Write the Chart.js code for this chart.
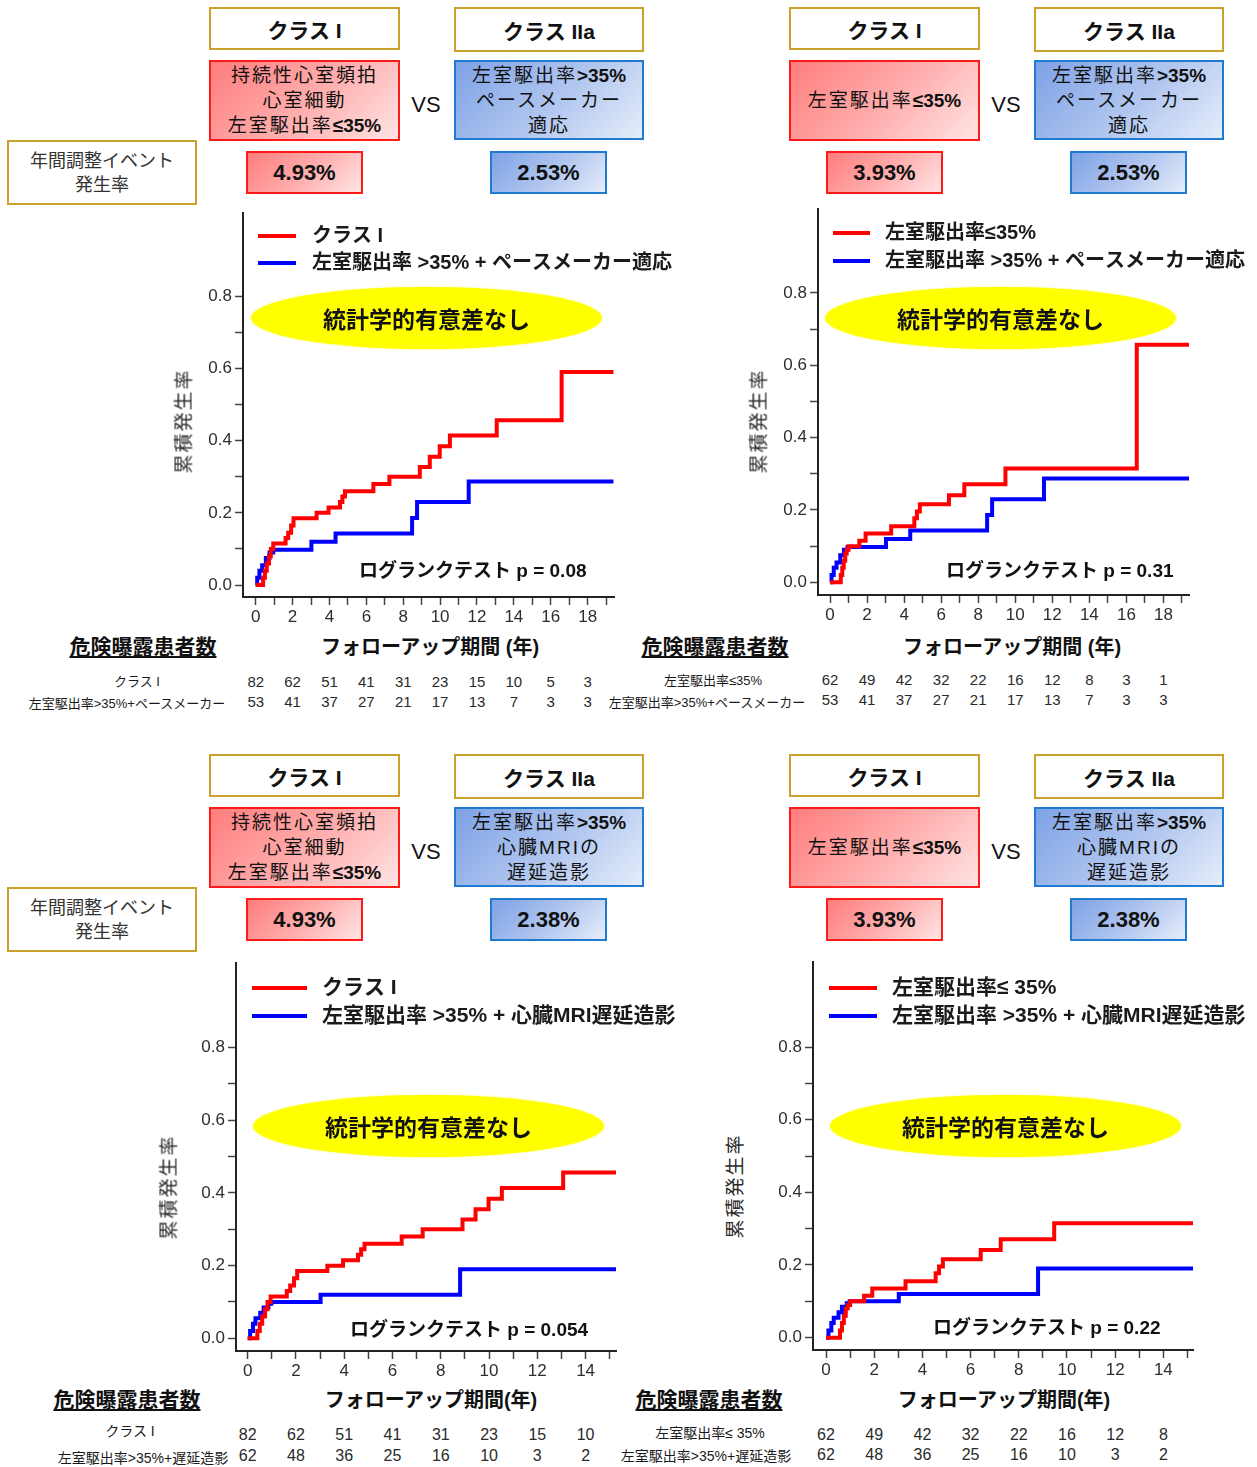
<!DOCTYPE html>
<html lang="ja">
<head>
<meta charset="utf-8">
<script src="https://cdn.jsdelivr.net/npm/chart.js@4.4.1/dist/chart.umd.min.js"></script>
<style>
html, body { margin: 0; padding: 0; background: #fff; overflow: hidden; }
#page { position: relative; width: 1257px; height: 1467px; overflow: hidden;
  font-family: 'Liberation Sans', Arial, 'Noto Sans CJK JP', sans-serif; color: #111; }
.box { position: absolute; box-sizing: border-box; display: flex; flex-direction: column;
  align-items: center; justify-content: center; text-align: center; white-space: nowrap; }
.gold { border: 2px solid #c9a12b; background: #fff; }
.cls { font-weight: bold; font-size: 21px; }
.red { border: 2px solid #ff1a1a; background: linear-gradient(135deg, #ff7d7d 0%, #ffb0b0 55%, #ffe4e4 100%); }
.blue { border: 2px solid #1f7ad0; background: linear-gradient(135deg, #7ea2e6 0%, #b2c7ef 55%, #e6edfa 100%); }
.desc { font-size: 19px; line-height: 25px; letter-spacing: 2px; }
.desc b { letter-spacing: 0; }
.rate { font-weight: bold; font-size: 22px; }
.note { font-size: 18px; line-height: 24px; color: #333; }
.mid { position: absolute; white-space: nowrap; transform: translate(-50%, -50%); }
.vs { font-size: 22px; }
.chartBox { position: absolute; }
.ell { position: absolute; background: #ffff00; border-radius: 50%; box-shadow: 0 0 2px #ffff40;
  display: flex; align-items: center; justify-content: center; font-weight: bold; font-size: 23px; }
.pval { position: absolute; font-weight: bold; font-size: 19px; white-space: nowrap; transform: translateY(-50%); }
.ytitle { position: absolute; font-size: 19px; letter-spacing: 2px; color: #2a2a2a; white-space: nowrap;
  transform: translate(-50%, -50%) rotate(-90deg); }
.xtitle { font-weight: bold; font-size: 20px; }
.risk { font-weight: bold; font-size: 21px; text-decoration: underline; }
.rlab { color: #1a1a1a; }
.rnum { color: #2a2a2a; }
</style>
</head>
<body>
<div id="page"></div>
<script>
// 累積発生率 (KM曲線) : 経過年 と 発生率
const classITime = [0, 0.4, 0.5, 0.6, 0.72, 0.82, 0.95, 1.62, 1.76, 1.92, 2.05, 3.3, 3.95, 4.57, 4.7, 4.84, 6.38, 7.25, 8.9, 9.44, 9.98, 10.53, 13.07, 16.59];
const classIRate = [0, 0.02, 0.04, 0.06, 0.08, 0.10, 0.115, 0.13, 0.145, 0.165, 0.185, 0.20, 0.215, 0.23, 0.245, 0.26, 0.28, 0.30, 0.327, 0.355, 0.384, 0.414, 0.456, 0.59];
const lvefTime = [0, 0.58, 0.66, 0.74, 0.82, 0.9, 1.0, 1.58, 1.92, 3.3, 4.55, 4.69, 4.85, 6.42, 7.25, 9.47, 16.56];
const lvefRate = [0, 0.02, 0.04, 0.06, 0.08, 0.09, 0.10, 0.115, 0.135, 0.155, 0.177, 0.196, 0.216, 0.241, 0.271, 0.315, 0.657];
const pacerTime = [0, 0.08, 0.2, 0.35, 0.55, 0.75, 0.95, 3.02, 4.33, 8.48, 8.75, 11.55];
const pacerRate = [0, 0.02, 0.04, 0.055, 0.075, 0.09, 0.098, 0.12, 0.143, 0.186, 0.23, 0.287];
const mriTime = [0, 0.1, 0.22, 0.32, 0.52, 0.66, 0.86, 0.98, 3.02, 8.8];
const mriRate = [0, 0.02, 0.04, 0.055, 0.07, 0.085, 0.095, 0.10, 0.12, 0.19];
const lastFollowUp = 19.4;

// 目盛り
const yTicks = [0, 0.1, 0.2, 0.3, 0.4, 0.5, 0.6, 0.7, 0.8];
const xTicksLong = [0, 1, 2, 3, 4, 5, 6, 7, 8, 9, 10, 11, 12, 13, 14, 15, 16, 17, 18, 19];
const xTicksShort = [0, 1, 2, 3, 4, 5, 6, 7, 8, 9, 10, 11, 12, 13, 14, 15];

// 危険曝露患者数
const riskYearsLong = [0, 2, 4, 6, 8, 10, 12, 14, 16, 18];
const riskYearsShort = [0, 2, 4, 6, 8, 10, 12, 14];
const riskClassI = [82, 62, 51, 41, 31, 23, 15, 10, 5, 3];
const riskLvef = [62, 49, 42, 32, 22, 16, 12, 8, 3, 1];
const riskPacer = [53, 41, 37, 27, 21, 17, 13, 7, 3, 3];
const riskMri = [62, 48, 36, 25, 16, 10, 3, 2];

const page = document.getElementById('page');
const FONT = "'Liberation Sans', Arial, 'Noto Sans CJK JP', sans-serif";
const AXIS_W = 60, AXIS_H = 30, PAD_T = 20, PAD_R = 80;

function toPoints(times, rates) {
    const pts = times.map((t, i) => ({ x: t, y: rates[i] }));
    pts.push({ x: lastFollowUp, y: rates[rates.length - 1] });
    return pts;
}

function el(cls, html, css) {
    const d = document.createElement('div');
    d.className = cls;
    d.innerHTML = html;
    Object.assign(d.style, css);
    page.appendChild(d);
    return d;
}
const px = v => v + 'px';
const at = (x, y) => ({ left: px(x), top: px(y) });

// 凡例はプロット内に描く
const insideLegend = {
    id: 'insideLegend',
    afterDraw(chart, args, o) {
        const { ctx, chartArea } = chart;
        ctx.save();
        ctx.font = o.font;
        ctx.textBaseline = 'middle';
        chart.data.datasets.forEach((ds, i) => {
            const x = chartArea.left + o.left;
            const y = chartArea.top + o.top + i * o.gap;
            ctx.strokeStyle = ds.borderColor;
            ctx.lineWidth = 4;
            ctx.beginPath();
            ctx.moveTo(x, y);
            ctx.lineTo(x + o.len, y);
            ctx.stroke();
            ctx.fillStyle = '#1a1a1a';
            ctx.fillText(ds.label, x + o.len + o.textGap, y);
        });
        ctx.restore();
    }
};

function makeChart(p) {
    const W = p.area.r - p.area.l + AXIS_W + PAD_R;
    const H = p.area.b - p.area.t + PAD_T + AXIS_H;
    const wrap = el('chartBox', '', { left: px(p.area.l - AXIS_W), top: px(p.area.t - PAD_T), width: px(W), height: px(H) });
    const cv = document.createElement('canvas');
    cv.width = W; cv.height = H;
    cv.style.width = px(W); cv.style.height = px(H);
    wrap.appendChild(cv);

    const lineStyle = { pointRadius: 0, borderWidth: 4, stepped: 'before', fill: false,
                        borderJoinStyle: 'miter', borderCapStyle: 'butt' };
    const axisCommon = {
        type: 'linear',
        grid: { drawOnChartArea: false, tickLength: 8, tickColor: '#444', tickWidth: 1.5 },
        border: { color: '#222', width: 2 },
    };
    const chart = new Chart(cv, {
        type: 'line',
        data: {
            datasets: [
                { label: p.red.label, data: toPoints(p.red.t, p.red.v), borderColor: '#ff0000', ...lineStyle },
                { label: p.blue.label, data: toPoints(p.blue.t, p.blue.v), borderColor: '#0000ff', ...lineStyle }
            ]
        },
        options: {
            responsive: false, animation: false,
            layout: { padding: { top: PAD_T, right: PAD_R, left: 0, bottom: 0 } },
            plugins: { legend: { display: false }, tooltip: { enabled: false }, insideLegend: p.legend },
            scales: {
                x: { ...axisCommon, min: p.x[0], max: p.x[1],
                     afterBuildTicks: s => { s.ticks = p.xTicks.map(v => ({ value: v })); },
                     afterFit: s => { s.height = AXIS_H; },
                     ticks: { autoSkip: false, maxRotation: 0, padding: 2, color: '#2e2e2e',
                              font: { family: FONT, size: 17 },
                              callback: v => (v % 2 === 0 ? String(v) : '') } },
                y: { ...axisCommon, min: p.y[0], max: p.y[1],
                     afterBuildTicks: s => { s.ticks = yTicks.map(v => ({ value: v })); },
                     afterFit: s => { s.width = AXIS_W; },
                     ticks: { autoSkip: false, padding: 3, color: '#2e2e2e',
                              font: { family: FONT, size: 17 },
                              callback: (v, i) => (i % 2 === 0 ? v.toFixed(1) : '') } }
            }
        },
        plugins: [insideLegend]
    });

    // 患者数の列は x 軸の目盛り位置に合わせる
    const offX = p.area.l - AXIS_W;
    p.risk.rows.forEach(row => {
        row.n.forEach((n, i) => {
            const x = offX + chart.scales.x.getPixelForValue(p.risk.years[i]);
            el('mid rnum', String(n), { ...at(x, row.y), fontSize: px(p.risk.numSize) });
        });
        el('mid rlab', row.label, { ...at(row.lx, row.ly), fontSize: px(p.risk.labSize) });
    });
    return chart;
}

const panels = [
    { area: { l: 243, t: 213, r: 614, b: 597 }, x: [-0.69, 19.43], y: [-0.033, 1.030], xTicks: xTicksLong,
      red: { label: 'クラス I', t: classITime, v: classIRate },
      blue: { label: '左室駆出率 >35% + ペースメーカー適応', t: pacerTime, v: pacerRate },
      legend: { left: 15, top: 23, gap: 27, len: 38, textGap: 16, font: `bold 20px ${FONT}` },
      risk: { years: riskYearsLong, numSize: 15, labSize: 13, rows: [
          { n: riskClassI, y: 681, label: 'クラス I', lx: 137, ly: 680 },
          { n: riskPacer, y: 701, label: '左室駆出率>35%+ペースメーカー', lx: 127, ly: 702 } ] } },
    { area: { l: 818, t: 209, r: 1189, b: 595 }, x: [-0.65, 19.38], y: [-0.035, 1.032], xTicks: xTicksLong,
      red: { label: '左室駆出率≤35%', t: lvefTime, v: lvefRate },
      blue: { label: '左室駆出率 >35% + ペースメーカー適応', t: pacerTime, v: pacerRate },
      legend: { left: 15, top: 24, gap: 28, len: 37, textGap: 15, font: `bold 20px ${FONT}` },
      risk: { years: riskYearsLong, numSize: 15, labSize: 13, rows: [
          { n: riskLvef, y: 679, label: '左室駆出率≤35%', lx: 713, ly: 679 },
          { n: riskPacer, y: 699, label: '左室駆出率>35%+ペースメーカー', lx: 707, ly: 701 } ] } },
    { area: { l: 236, t: 963, r: 616, b: 1351 }, x: [-0.485, 15.26], y: [-0.035, 1.033], xTicks: xTicksShort,
      red: { label: 'クラス I', t: classITime, v: classIRate },
      blue: { label: '左室駆出率 >35% + 心臓MRI遅延造影', t: mriTime, v: mriRate },
      legend: { left: 16, top: 25, gap: 28, len: 55, textGap: 15, font: `bold 21px ${FONT}` },
      risk: { years: riskYearsShort, numSize: 16, labSize: 14, rows: [
          { n: riskClassI.slice(0, 8), y: 1435, label: 'クラス I', lx: 130, ly: 1430 },
          { n: riskMri, y: 1456, label: '左室駆出率>35%+遅延造影', lx: 143, ly: 1457 } ] } },
    { area: { l: 813, t: 962, r: 1193, b: 1350 }, x: [-0.54, 15.23], y: [-0.034, 1.034], xTicks: xTicksShort,
      red: { label: '左室駆出率≤ 35%', t: lvefTime, v: lvefRate },
      blue: { label: '左室駆出率 >35% + 心臓MRI遅延造影', t: mriTime, v: mriRate },
      legend: { left: 16, top: 26, gap: 28, len: 48, textGap: 15, font: `bold 21px ${FONT}` },
      risk: { years: riskYearsShort, numSize: 16, labSize: 14, rows: [
          { n: riskLvef.slice(0, 8), y: 1435, label: '左室駆出率≤ 35%', lx: 710, ly: 1432 },
          { n: riskMri, y: 1455, label: '左室駆出率>35%+遅延造影', lx: 706, ly: 1455 } ] } }
];

panels.forEach(makeChart);

// 上部のクラス比較ボックス
function header(dx, dy, redHtml, blueHtml, redRate, blueRate, withNote) {
    el('box gold cls', 'クラス I', { ...at(209 + dx, 7 + dy), width: '191px', height: '43px' });
    el('box gold cls', 'クラス IIa', { ...at(454 + dx, 7 + dy), width: '190px', height: '45px' });
    el('box red desc', redHtml, { ...at(209 + dx, 60 + dy), width: '191px', height: '81px' });
    el('box blue desc', blueHtml, { ...at(454 + dx, 60 + dy), width: '190px', height: '80px' });
    el('mid vs', 'VS', at(426 + dx, 105 + dy));
    el('box red rate', redRate, { ...at(246 + dx, 151 + dy), width: '117px', height: '43px' });
    el('box blue rate', blueRate, { ...at(490 + dx, 151 + dy), width: '117px', height: '43px' });
    if (withNote) el('box gold note', '年間調整イベント<br>発生率', { ...at(7, 140 + dy), width: '190px', height: '65px' });
}
const redLong = '<div>持続性心室頻拍</div><div>心室細動</div><div>左室駆出率<b>≤35%</b></div>';
const redShort = '<div>左室駆出率<b>≤35%</b></div>';
const bluePacer = '<div>左室駆出率<b>&gt;35%</b></div><div>ペースメーカー</div><div>適応</div>';
const blueMri = '<div>左室駆出率<b>&gt;35%</b></div><div>心臓MRIの</div><div>遅延造影</div>';

header(0, 0, redLong, bluePacer, '4.93%', '2.53%', true);
header(580, 0, redShort, bluePacer, '3.93%', '2.53%', false);
header(0, 747, redLong, blueMri, '4.93%', '2.38%', true);
header(580, 747, redShort, blueMri, '3.93%', '2.38%', false);

// 図中の注記・軸タイトル
const notes = [
    { ell: [426, 318], p: [359, 568, 'ログランクテスト p = 0.08'], yt: [182, 421], xt: [430, 645, 'フォローアップ期間 (年)'], rk: [143, 645] },
    { ell: [1000, 318], p: [946, 568, 'ログランクテスト p = 0.31'], yt: [757, 421], xt: [1012, 645, 'フォローアップ期間 (年)'], rk: [715, 645] },
    { ell: [428, 1126], p: [350, 1327, 'ログランクテスト p = 0.054'], yt: [167, 1187], xt: [431, 1398, 'フォローアップ期間(年)'], rk: [127, 1398] },
    { ell: [1005, 1126], p: [933, 1325, 'ログランクテスト p = 0.22'], yt: [733, 1186], xt: [1004, 1398, 'フォローアップ期間(年)'], rk: [709, 1398] }
];
notes.forEach(n => {
    el('ell', '統計学的有意差なし', { ...at(n.ell[0] - 175, n.ell[1] - 31), width: '351px', height: '62px' });
    el('pval', n.p[2], at(n.p[0], n.p[1]));
    el('ytitle', '累積発生率', at(n.yt[0], n.yt[1]));
    el('mid xtitle', n.xt[2], at(n.xt[0], n.xt[1]));
    el('mid risk', '危険曝露患者数', at(n.rk[0], n.rk[1]));
});
</script>
</body>
</html>
